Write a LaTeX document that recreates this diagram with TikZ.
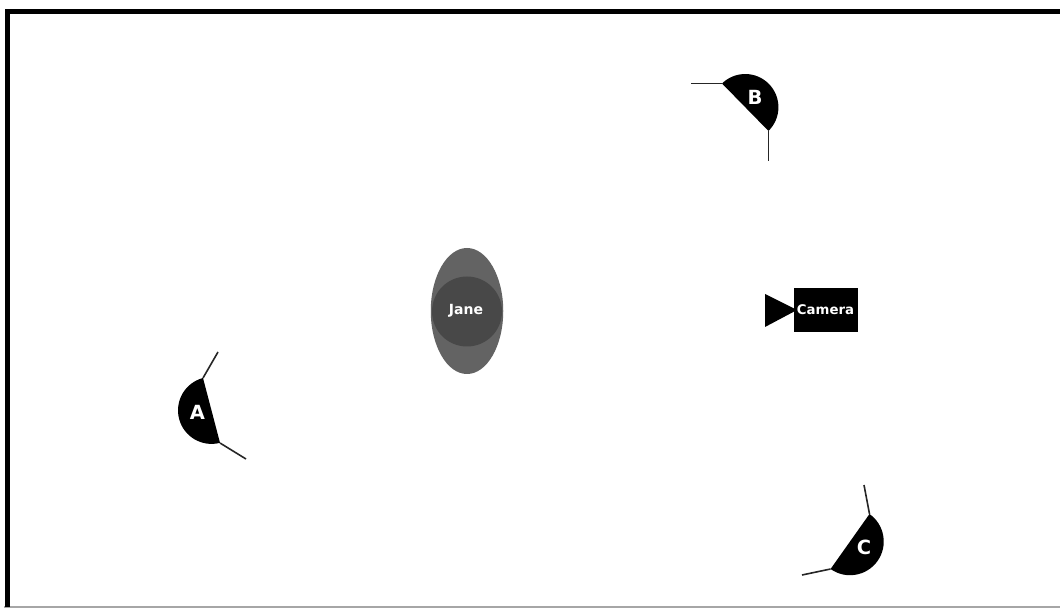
\documentclass[tikz,border=0pt]{standalone}
\usepackage{fontspec}
\setmainfont{DejaVu Sans}
\usetikzlibrary{shapes.geometric}
\definecolor{bodygray}{HTML}{636363}
\definecolor{headgray}{HTML}{484848}
\begin{document}
\begin{tikzpicture}[
    x=1pt,y=1pt,
    frameline/.style={line width=5.5pt,black},
    edgeline/.style={line width=1.2pt,black!35},
    wire/.style={line width=1.6pt,black!85},
    lamp/.style={fill=black},
    lamplabel/.style={text=white,font=\fontsize{19.5}{19.5}\selectfont\bfseries,inner sep=0pt},
    body/.style={ellipse,fill=bodygray,minimum width=72.5pt,minimum height=126pt,inner sep=0pt},
    head/.style={circle,fill=headgray,minimum size=70pt,inner sep=0pt},
    namelabel/.style={text=white,inner sep=0pt,font=\fontsize{14}{14}\selectfont\bfseries},
    camlabel/.style={text=white,inner sep=0pt,font=\fontsize{13.3}{13.3}\selectfont\bfseries},
    cambox/.style={rectangle,fill=black,minimum width=63.5pt,minimum height=44pt,inner sep=0pt}
]
\useasboundingbox (0,0) rectangle (1060,608);
\fill[white] (0,0) rectangle (1060,608);

% frame, open on the right
\coordinate (F1) at (7.5,1);
\coordinate (F2) at (7.5,596.5);
\coordinate (F3) at (1060,596.5);
\coordinate (F4) at (4,1);
\coordinate (F5) at (1060,1);
\draw[edgeline] (F4) -- (F5);
\draw[frameline] (F1) -- (F2) -- (F3);

% subject
\node[body] (J) at (467,297) {};
\node[head] (H) at (467,296.5) {};
\node[namelabel] (Jane) at (466,297.5) {Jane};

% camera
\node[cambox] (Cam) at (826,298) {};
\coordinate (T1) at (765,281);
\coordinate (T2) at (765,314);
\coordinate (T3) at (797,298);
\fill[black] (T1) -- (T2) -- (T3) -- cycle;
\node[camlabel] (CamText) at (825.5,298) {Camera};

% lamp A
\coordinate (A1) at (203,230);
\coordinate (A2) at (220,165);
\coordinate (A3) at (218,256);
\coordinate (A4) at (246,149);
\fill[lamp] (A1) arc[start angle=104.7,delta angle=180,radius=33.5] -- cycle;
\draw[wire] (A1) -- (A3);
\draw[wire] (A2) -- (A4);
\node[lamplabel] (A) at (197.5,196) {A};

% lamp B
\coordinate (B1) at (722,524.5);
\coordinate (B2) at (768.5,477);
\coordinate (B3) at (691,524.5);
\coordinate (B4) at (768.5,447);
\fill[lamp] (B1) arc[start angle=134.4,delta angle=-180,radius=33.2] -- cycle;
\draw[wire] (B1) -- (B3);
\draw[wire] (B2) -- (B4);
\node[lamplabel] (B) at (755,511) {B};

% lamp C
\coordinate (C1) at (869.5,94);
\coordinate (C2) at (830.5,39);
\coordinate (C3) at (864,123);
\coordinate (C4) at (802,33);
\fill[lamp] (C1) arc[start angle=54.7,delta angle=-180,radius=33.7] -- cycle;
\draw[wire] (C1) -- (C3);
\draw[wire] (C2) -- (C4);
\node[lamplabel] (C) at (864,61) {C};
\end{tikzpicture}
\end{document}
